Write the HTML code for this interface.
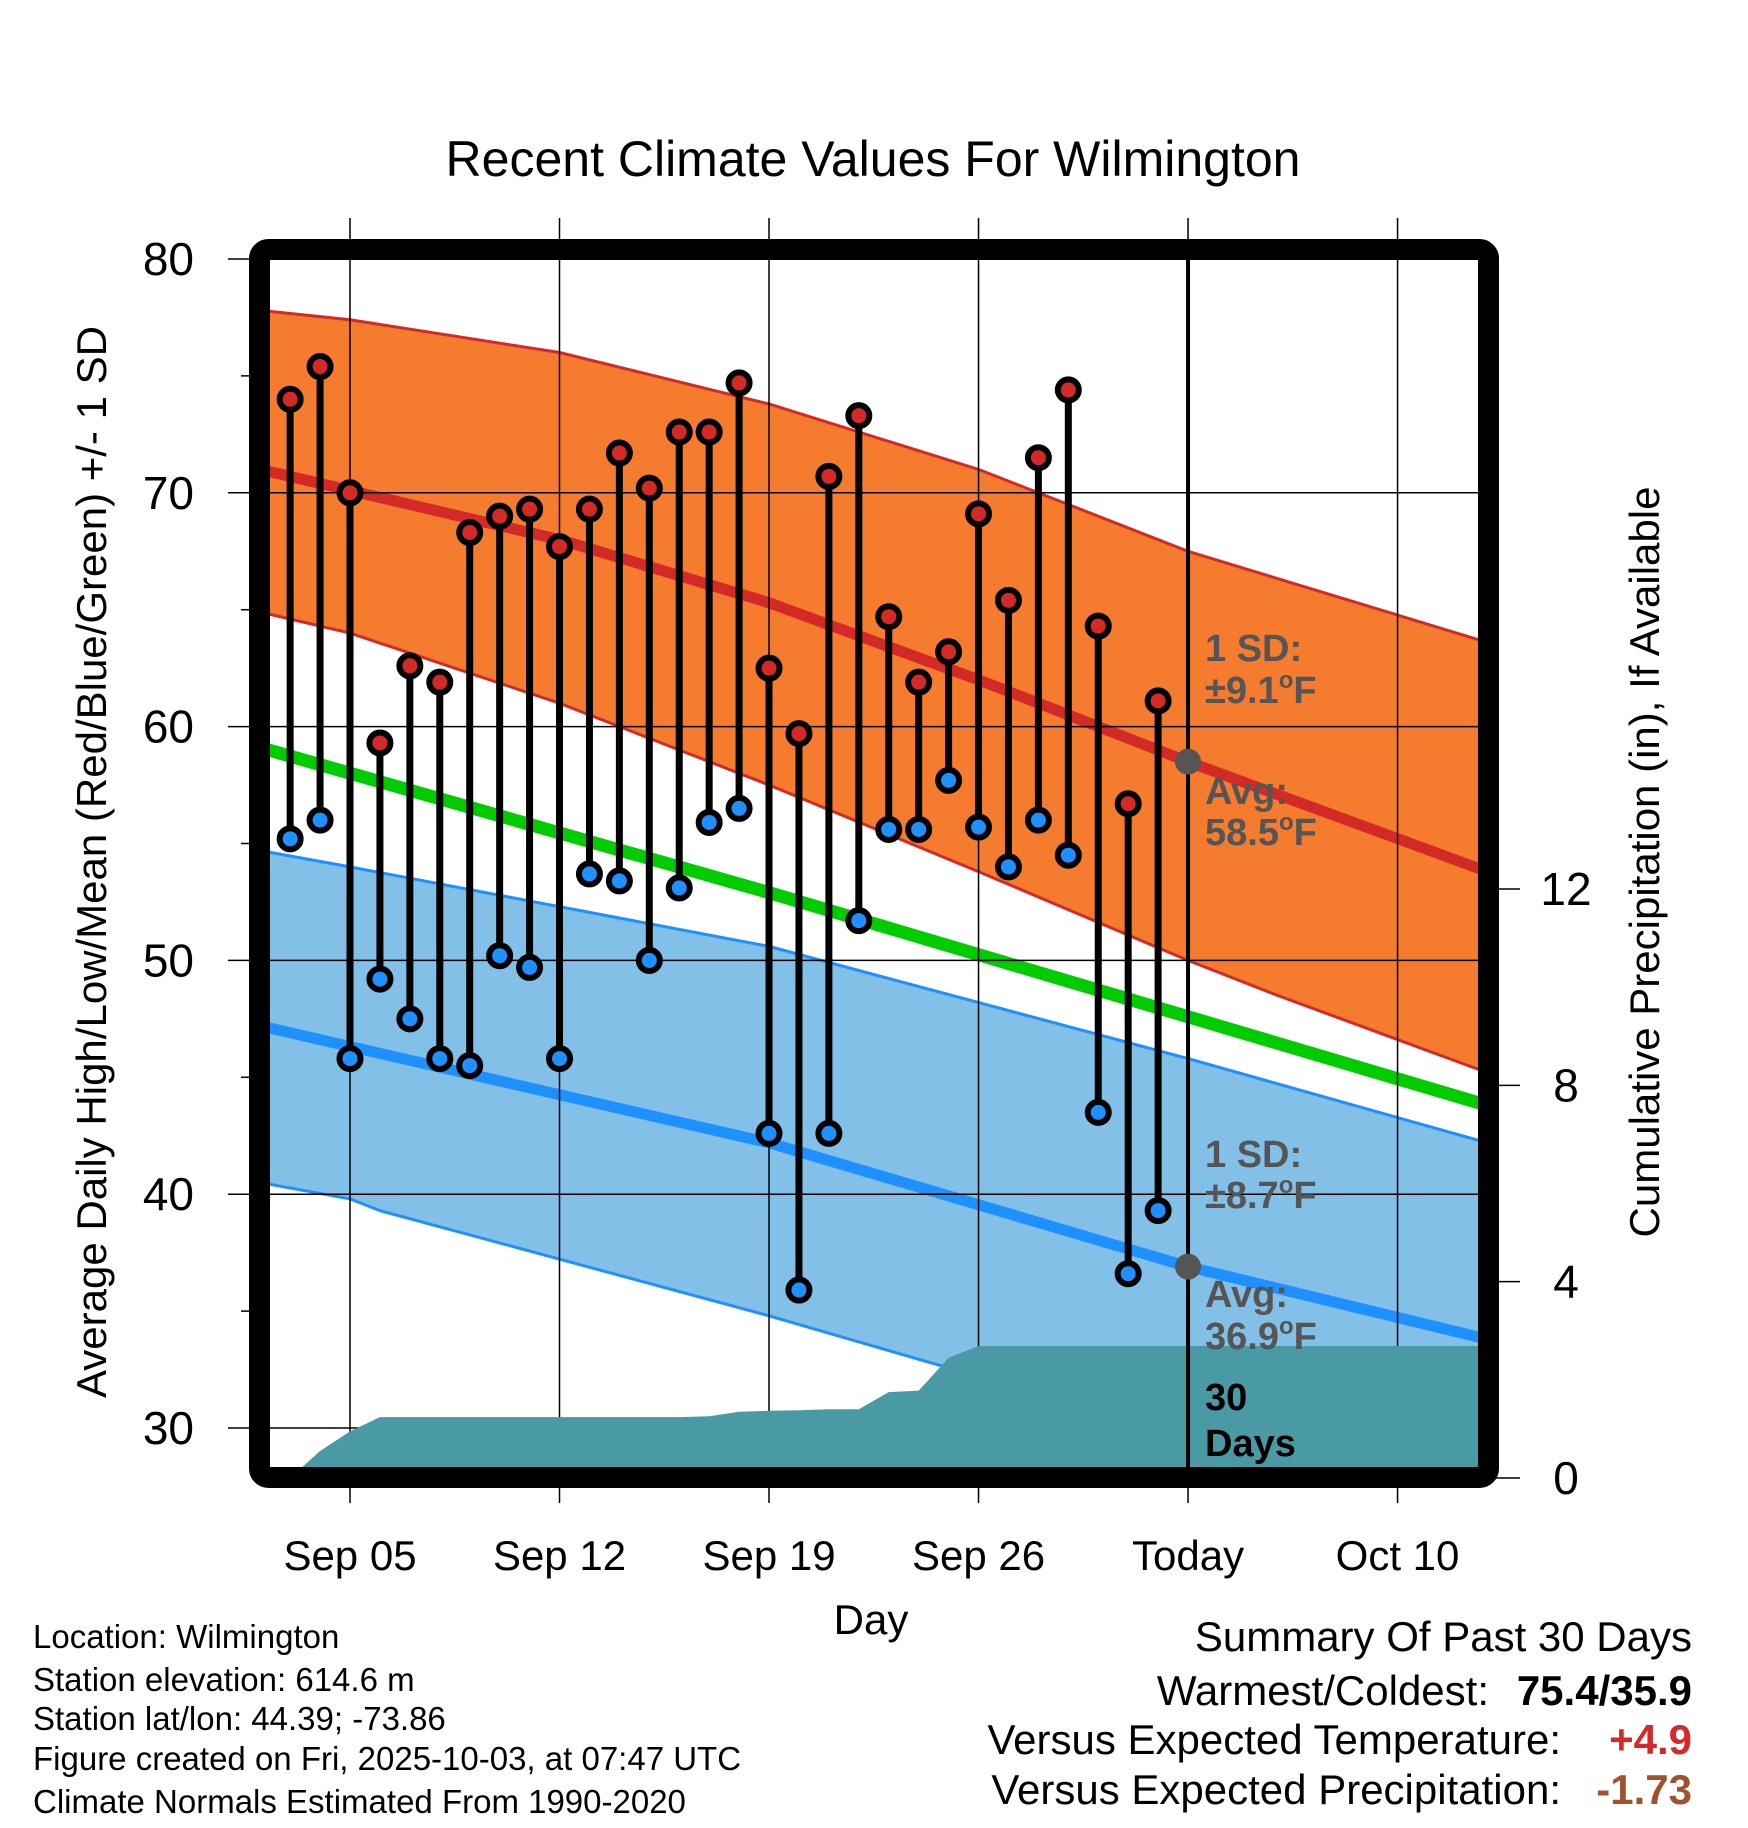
<!DOCTYPE html>
<html><head><meta charset="utf-8"><style>
html,body{margin:0;padding:0;background:#fff}
svg{display:block;font-family:"Liberation Sans",Arial,sans-serif}
</style></head><body>
<svg id="chart" width="1748" height="1828" viewBox="0 0 1748 1828" xmlns="http://www.w3.org/2000/svg">
<defs><clipPath id="plotclip"><rect x="270" y="260" width="1208" height="1208"/></clipPath></defs>
<text x="873" y="176" font-size="50" text-anchor="middle">Recent Climate Values For Wilmington</text>
<g id="bands" clip-path="url(#plotclip)"></g>
<g id="grid"></g>
<g id="precip" clip-path="url(#plotclip)"></g>
<g id="marks"></g>
<g id="labels"></g>
<rect x="259.5" y="249.5" width="1229" height="1228" rx="9" fill="none" stroke="#000" stroke-width="21"/>
<text transform="translate(106,862) rotate(-90)" font-size="42" text-anchor="middle">Average Daily High/Low/Mean (Red/Blue/Green) +/- 1 SD</text>
<text transform="translate(1659,862) rotate(-90)" font-size="42" text-anchor="middle">Cumulative Precipitation (in), If Available</text>
<text x="871" y="1634" font-size="42" text-anchor="middle">Day</text>
<g font-size="33">
<text x="33" y="1648">Location: Wilmington</text>
<text x="33" y="1691">Station elevation: 614.6 m</text>
<text x="33" y="1730">Station lat/lon: 44.39; -73.86</text>
<text x="33" y="1770">Figure created on Fri, 2025-10-03, at 07:47 UTC</text>
<text x="33" y="1813">Climate Normals Estimated From 1990-2020</text>
</g>
<g font-size="42">
<text x="1692" y="1651" text-anchor="end">Summary Of Past 30 Days</text>
<text x="1489" y="1705" text-anchor="end">Warmest/Coldest:</text>
<text x="1692" y="1705" text-anchor="end" font-weight="bold">75.4/35.9</text>
<text x="1561" y="1754" text-anchor="end">Versus Expected Temperature:</text>
<text x="1692" y="1754" text-anchor="end" font-weight="bold" fill="#d42a27">+4.9</text>
<text x="1561" y="1804" text-anchor="end">Versus Expected Precipitation:</text>
<text x="1692" y="1804" text-anchor="end" font-weight="bold" fill="#a0522d">-1.73</text>
</g>
</svg>
<script>
const days = [-2,-1,0,1,2,3,4,5,6,7,8,9,10,11,12,13,14,15,16,17,18,19,20,21,22,23,24,25,26,27];
const highs = [74.0,75.4,70.0,59.3,62.6,61.9,68.3,69.0,69.3,67.7,69.3,71.7,70.2,72.6,72.6,74.7,62.5,59.7,70.7,73.3,64.7,61.9,63.2,69.1,65.4,71.5,74.4,64.3,56.7,61.1];
const lows = [55.2,56.0,45.8,49.2,47.5,45.8,45.5,50.2,49.7,45.8,53.7,53.4,50.0,53.1,55.9,56.5,42.6,35.9,42.6,51.7,55.6,55.6,57.7,55.7,54.0,56.0,54.5,43.5,36.6,39.3];
const precip = [0,0.55,0.95,1.24,1.24,1.24,1.24,1.24,1.24,1.24,1.24,1.24,1.24,1.24,1.26,1.35,1.37,1.38,1.4,1.4,1.75,1.78,2.45,2.69,2.69,2.69,2.69,2.69,2.69,2.69];
const normHighDays = [-3,7,14,21,28,38];
const normHigh = [71.0,68.0,65.3,62.0,58.5,53.8];
const hiUpDays = [-3,0,7,14,21,28,38];
const hiUp = [77.8,77.4,76.0,73.8,71.0,67.5,63.6];
const hiLoDays = [-3,0,7,14,21,28,31,38];
const hiLo = [64.9,64.0,61.0,57.5,53.8,50.0,48.5,45.2];
const meanDays = [-3,14,38];
const meanT = [59.1,52.9,43.8];
const normLowDays = [-3,14,28,38];
const normLow = [47.2,42.2,36.9,33.8];
const loUpDays = [-3,0,14,28,38];
const loUp = [54.7,54.0,50.6,45.8,42.2];
const loLoDays = [-3,0,1,14,21,28,38];
const loLo = [40.5,39.8,39.3,34.8,32.2,29.5,26.0];
const yTicks = [80,70,60,50,40,30];
const yMinor = [75,65,55,45,35];
const y2Ticks = [0,4,8,12];
const xTickDays = [0,7,14,21,28,35];
const xTickLabels = ["Sep 05","Sep 12","Sep 19","Sep 26","Today","Oct 10"];
const todayDay = 28;
const todayHigh = 58.5, todayLow = 36.9;

const NS="http://www.w3.org/2000/svg";
const X = d => 350 + d*29.93;
const Y = v => 259 + (80-v)*23.38;
const Y2 = p => 1478 - p*49.08;
function mk(tag, attrs, parent){const e=document.createElementNS(NS,tag);for(const k in attrs)e.setAttribute(k,attrs[k]);parent.appendChild(e);return e;}
const bands=document.getElementById('bands'),grid=document.getElementById('grid'),pg=document.getElementById('precip'),marks=document.getElementById('marks'),labels=document.getElementById('labels');
function pts(ds,vs){return ds.map((d,i)=>X(d).toFixed(1)+','+Y(vs[i]).toFixed(1));}
function bandPath(d1,v1,d2,v2){const a=pts(d1,v1),b=pts(d2,v2).reverse();return 'M'+a.join('L')+'L'+b.join('L')+'Z';}

let e;
e=mk('path',{d:bandPath(hiUpDays,hiUp,hiLoDays,hiLo),fill:'#f57b2f'},bands);

e=mk('path',{d:bandPath(loUpDays,loUp,loLoDays,loLo),fill:'#82c0e8'},bands);

function line(ds,vs,col,w,name){const l=mk('polyline',{points:pts(ds,vs).join(' '),fill:'none',stroke:col,'stroke-width':w},bands);

}
line(hiUpDays,hiUp,'#d42a27',3,'high-sd-upper');
line(hiLoDays,hiLo,'#d42a27',3,'high-sd-lower');
line(loUpDays,loUp,'#1e90ff',3,'low-sd-upper');
line(loLoDays,loLo,'#1e90ff',3,'low-sd-lower');
line(normHighDays,normHigh,'#d42a27',11,'avg-high-line');
line(meanDays,meanT,'#00cc00',13,'mean-line');
line(normLowDays,normLow,'#1e90ff',11,'avg-low-line');

yTicks.forEach(v=>{
  e=mk('line',{x1:228,x2:1478,y1:Y(v),y2:Y(v),stroke:'#000','stroke-width':1.5},grid);
  
  e=mk('text',{x:194,y:Y(v)+16,'font-size':46,'text-anchor':'end'},labels);e.textContent=v;
  
});
yMinor.forEach(v=>{e=mk('line',{x1:241,x2:262,y1:Y(v),y2:Y(v),stroke:'#000','stroke-width':1.5},grid);
  });
y2Ticks.forEach(p=>{
  e=mk('line',{x1:1490,x2:1520,y1:Y2(p),y2:Y2(p),stroke:'#000','stroke-width':1.5},grid);
  
  e=mk('text',{x:1566,y:Y2(p)+16,'font-size':46,'text-anchor':'middle'},labels);e.textContent=p;
  
});
xTickDays.forEach((d,i)=>{
  e=mk('line',{x1:X(d),x2:X(d),y1:218,y2:1503,stroke:'#000','stroke-width':1.5},grid);
  
  e=mk('text',{x:X(d),y:1570,'font-size':42,'text-anchor':'middle'},labels);e.textContent=xTickLabels[i];
  
});

let pd='M'+X(days[0])+','+Y2(0);
days.forEach((d,i)=>{pd+='L'+X(d).toFixed(1)+','+Y2(precip[i]).toFixed(1);});
pd+='L1480,'+Y2(precip[precip.length-1]).toFixed(1)+'L1480,'+Y2(0)+'Z';
e=mk('path',{d:pd,fill:'#4a9aa5'},pg);


e=mk('line',{x1:X(todayDay),x2:X(todayDay),y1:260,y2:1468,stroke:'#000','stroke-width':4},marks);


days.forEach((d,i)=>{
  const g=mk('g',{},marks);
  
  
  mk('line',{x1:X(d),x2:X(d),y1:Y(highs[i]),y2:Y(lows[i]),stroke:'#000','stroke-width':7},g);
  const h=mk('circle',{cx:X(d),cy:Y(highs[i]),r:10.5,fill:'#d42a27',stroke:'#000','stroke-width':6},g);
  
  
  const l=mk('circle',{cx:X(d),cy:Y(lows[i]),r:10.5,fill:'#1e90ff',stroke:'#000','stroke-width':6},g);
  
  
});
e=mk('circle',{cx:X(todayDay),cy:Y(todayHigh),r:13,fill:'#555'},marks);

e=mk('circle',{cx:X(todayDay),cy:Y(todayLow),r:13,fill:'#555'},marks);


function ann(txt,y,col,name,sup){
  const t=mk('text',{x:1205,y:y,'font-size':38,'font-weight':'bold',fill:col},labels);
  
  
  if(sup){const parts=txt.split('°');t.appendChild(document.createTextNode(parts[0]));
    const s=mk('tspan',{'font-size':24,dy:-15},t);s.textContent='o';
    const r=mk('tspan',{dy:15},t);r.textContent=parts[1];}
  else t.textContent=txt;
}
ann('1 SD:',661,'#555','high-sd-label');
ann('±9.1°F',703,'#555','high-sd-value',true);
ann('Avg:',804,'#555','high-avg-label');
ann('58.5°F',845,'#555','high-avg-value',true);
ann('1 SD:',1167,'#555','low-sd-label');
ann('±8.7°F',1208,'#555','low-sd-value',true);
ann('Avg:',1307,'#555','low-avg-label');
ann('36.9°F',1349,'#555','low-avg-value',true);
ann('30',1410,'#000','days-count');
ann('Days',1456,'#000','days-label');
</script>
</body></html>
